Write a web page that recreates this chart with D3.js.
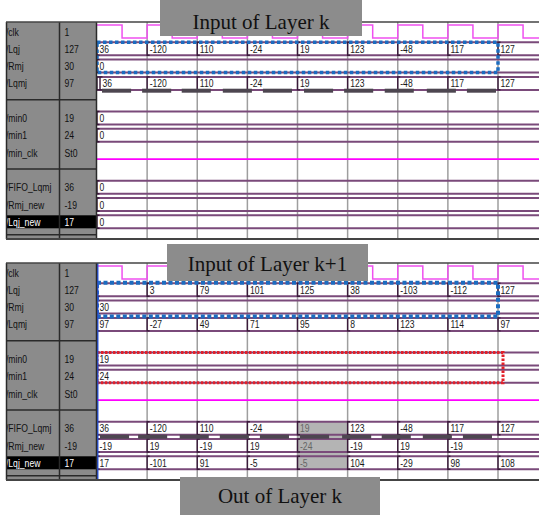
<!DOCTYPE html>
<html><head><meta charset="utf-8">
<script src="https://cdn.jsdelivr.net/npm/d3@7"></script>
<style>body{margin:0;background:#fff}svg{display:block}</style>
</head><body><svg id="c" width="539" height="515"></svg>
<script>
// ---- data ----
const signalNames = ["/clk","/Lqj","/Rmj","/Lqmj","","/min0","/min1","/min_clk","","/FIFO_Lqmj","/Rmj_new","/Lqj_new"];
const cursorValues = ["1","127","30","97","","19","24","St0","","36","-19","17"];
const clkTimes  = [0,0.5,1,1.5,2,2.5,3,3.5,4,4.5,5,5.5,6,6.5,7,7.5,8,8.5];
const clkLevels = [1,0,1,0,1,0,1,0,1,0,1,0,1,0,1,0,1,0];
const cycleStarts = [0,1,2,3,4,5,6,7,8];
// Input of Layer k
const lqjK = ["36","-120","110","-24","19","123","-48","117","127"];
const rmjK = ["0"];
const lqmjKStarts = [0,0.06,1,2,3,4,5,6,7,8];
const lqmjK = ["","36","-120","110","-24","19","123","-48","117","127"];
const min0K = ["0"];
const min1K = ["0"];
const fifoK = ["0"];
const rmjNewK = ["0"];
const lqjNewK = ["0"];
// Input of Layer k+1
const lqjK1 = ["","3","79","101","125","38","-103","-112","127"];
const rmjK1 = ["30"];
const lqmjK1 = ["97","-27","49","71","95","8","123","114","97"];
const min0K1 = ["19"];
const min1K1 = ["24"];
const fifoK1 = ["36","-120","110","-24","19","123","-48","117","127"];
const rmjNewK1 = ["-19","19","-19","19","-24","-19","19","-19"];
const lqjNewK1 = ["17","-101","91","-5","-5","104","-29","98","108"];
const strobeK  = [0.10,0.90,1.69,2.51,3.31,4.13,4.93,5.74,6.58,7.38];
const strobeK1 = [0.06,0.82,1.65,2.45,3.25,4.05,4.89,5.68,6.50,7.30];
const strobeLen = 0.58;
const titles = ["Input of Layer k","Input of Layer k+1","Out of Layer k"];

// ---- drawing ----
const svg = d3.select("#c");
const W = 539;
const x = d3.scaleLinear().domain([0,8]).range([97,498]);
const tEnd = x.invert(W);
const rowY = d3.scaleLinear().domain([0,11]).range([9.5,199.8]);
const half = 6.5;
const panelH = 217;
const busColor = "#7a4a7a";

const defs = svg.append("defs");
defs.append("clipPath").attr("id","nameClip").append("rect")
  .attr("x",7).attr("y",0).attr("width",52).attr("height",panelH);

function sx(el, px, py, s){ return el.attr("transform",`translate(${px},${py}) scale(${s},1)`); }

function drawPanel(top, cfg){
  const g = svg.append("g").attr("transform",`translate(0,${top})`);
  g.append("rect").attr("x",97).attr("y",0).attr("width",W-97).attr("height",panelH).attr("fill","#fff");
  if (cfg.highlight){
    const h = cfg.highlight;
    g.append("rect").attr("x",x(h.t0)).attr("y",rowY(h.r0)-half)
      .attr("width",x(h.t1)-x(h.t0)).attr("height",rowY(h.r1)-rowY(h.r0)+2*half)
      .attr("fill","#b4b4b4");
  }
  g.selectAll(".grid").data(cycleStarts.slice(1)).join("line")
    .attr("x1",d=>x(d)).attr("x2",d=>x(d)).attr("y1",0).attr("y2",panelH)
    .attr("stroke","#9e9e9e").attr("stroke-width",1.5);
  const clkPts = clkTimes.map((t,i)=>[t,clkLevels[i]]).concat([[tEnd,clkLevels[clkLevels.length-1]]]);
  const cy = rowY(0);
  g.append("path").datum(clkPts)
    .attr("d", d3.line().x(d=>x(d[0])).y(d=>d[1]?cy-half:cy+half).curve(d3.curveStepAfter))
    .attr("fill","none").attr("stroke","#f050f0").attr("stroke-width",1.5);
  g.append("line").attr("x1",x(0)).attr("x2",W).attr("y1",rowY(7)+half).attr("y2",rowY(7)+half)
    .attr("stroke","#ff00ff").attr("stroke-width",1.8);
  cfg.buses.forEach(b=>{
    const c = rowY(b.row), yt = c-half, yb = c+half;
    const starts = b.starts || cycleStarts.slice(0,b.values.length);
    const bg = g.append("g");
    [yt,yb].forEach(yy=>bg.append("line").attr("x1",x(0)).attr("x2",W).attr("y1",yy).attr("y2",yy)
      .attr("stroke",busColor).attr("stroke-width",2));
    starts.forEach((s,i)=>{
      const xx = x(s);
      bg.append("path").attr("d",`M${xx+2.5},${yt}L${xx},${yt}L${xx},${yb}L${xx+2.5},${yb}`)
        .attr("fill","none").attr("stroke","#3a1a3a").attr("stroke-width",1.4);
      const inHl = cfg.highlight && s>=cfg.highlight.t0 && s<cfg.highlight.t1 && b.row>=cfg.highlight.r0 && b.row<=cfg.highlight.r1;
      sx(bg.append("text"), xx+2.5, c+4, 0.78).text(b.values[i])
        .attr("font-family","Liberation Sans, Arial, sans-serif").attr("font-size",11)
        .attr("fill", inHl ? "#666" : "#1a1a1a");
    });
  });
  if (cfg.strobe){
    g.selectAll(".strobe").data(cfg.strobe.starts).join("rect")
      .attr("x",d=>x(d)).attr("width",x(strobeLen)-x(0))
      .attr("y",rowY(cfg.strobe.row)+half+cfg.strobe.dy-2).attr("height",4)
      .attr("fill","#4d4650");
  }
  cfg.boxes.forEach(bx=>{
    g.append("rect").attr("x",x(bx.t0)).attr("y",rowY(bx.r0)-half+bx.dy0)
      .attr("width",x(bx.t1)-x(bx.t0)).attr("height",rowY(bx.r1)-rowY(bx.r0)+2*half+bx.dy1-bx.dy0)
      .attr("fill","none").attr("stroke",bx.color).attr("stroke-width",bx.w)
      .attr("stroke-dasharray",bx.dash);
  });
  if (cfg.cursor){
    g.append("line").attr("x1",97.5).attr("x2",97.5).attr("y1",0).attr("y2",panelH)
      .attr("stroke","#2a55e0").attr("stroke-width",2);
  }
  g.append("rect").attr("x",6).attr("y",0).attr("width",91).attr("height",panelH).attr("fill","#8b8b8b");
  g.append("rect").attr("x",6).attr("y",rowY(11)-half).attr("width",91).attr("height",2*half).attr("fill","#000");
  const ng = g.append("g").attr("clip-path","url(#nameClip)");
  signalNames.forEach((n,i)=>{
    if(!n) return;
    sx(ng.append("text"), 5.9, rowY(i)+4, 0.75).text(n)
      .attr("font-family","Liberation Sans, Arial, sans-serif").attr("font-size",11.5)
      .attr("fill", i===11 ? "#fff" : "#111");
  });
  cursorValues.forEach((v,i)=>{
    if(!v) return;
    sx(g.append("text"), 64.5, rowY(i)+4, 0.75).text(v)
      .attr("font-family","Liberation Sans, Arial, sans-serif").attr("font-size",11.5)
      .attr("fill", i===11 ? "#fff" : "#111");
  });
  [rowY(4)-1, rowY(8)-1, rowY(11)+13].forEach(yy=>{
    g.append("line").attr("x1",6).attr("x2",97).attr("y1",yy).attr("y2",yy)
      .attr("stroke","#2a2a2a").attr("stroke-width",1.5);
  });
  [6.5,59.5,96.5].forEach(xx=>{
    g.append("line").attr("x1",xx).attr("x2",xx).attr("y1",0).attr("y2",panelH)
      .attr("stroke","#2a2a2a").attr("stroke-width",1.5);
  });
  g.append("line").attr("x1",6).attr("x2",W).attr("y1",0).attr("y2",0).attr("stroke","#444").attr("stroke-width",1.5);
  g.append("line").attr("x1",6).attr("x2",W).attr("y1",panelH).attr("y2",panelH).attr("stroke","#444").attr("stroke-width",2);
}

const blue = "#1c6cc0", red = "#e3202a";
drawPanel(22,{
  buses:[
    {row:1,values:lqjK},{row:2,values:rmjK},{row:3,values:lqmjK,starts:lqmjKStarts},
    {row:5,values:min0K},{row:6,values:min1K},
    {row:9,values:fifoK},{row:10,values:rmjNewK},{row:11,values:lqjNewK}
  ],
  strobe:{row:3,starts:strobeK,dy:0.8},
  boxes:[{t0:0,t1:8,r0:1,r1:2,dy0:0,dy1:0,color:blue,w:3.5,dash:"3.5,2.5"}],
  cursor:false
});
drawPanel(263,{
  buses:[
    {row:1,values:lqjK1},{row:2,values:rmjK1},{row:3,values:lqmjK1},
    {row:5,values:min0K1},{row:6,values:min1K1},
    {row:9,values:fifoK1},{row:10,values:rmjNewK1},{row:11,values:lqjNewK1}
  ],
  strobe:{row:9,starts:strobeK1,dy:2},
  boxes:[
    {t0:0,t1:8,r0:1,r1:2,dy0:-0.5,dy1:3,color:blue,w:4,dash:"4,2.5"},
    {t0:0,t1:8.1,r0:5,r1:6,dy0:0,dy1:0,color:red,w:3,dash:"2.5,1.5"}
  ],
  highlight:{t0:4,t1:5,r0:9,r1:11},
  cursor:true
});

const titleBoxes = [
  {x:160,y:0,w:202,h:36,by:28.5},
  {x:167,y:244,w:201,h:37,by:271},
  {x:180,y:477,w:200,h:40,by:503}
];
titleBoxes.forEach((b,i)=>{
  svg.append("rect").attr("x",b.x).attr("y",b.y).attr("width",b.w).attr("height",b.h).attr("fill","#8c8c8c");
  svg.append("text").attr("x",b.x+b.w/2).attr("y",b.by).attr("text-anchor","middle")
    .attr("font-family","Liberation Serif, Times New Roman, serif").attr("font-size",21)
    .attr("fill","#111").text(titles[i]);
});
</script></body></html>
